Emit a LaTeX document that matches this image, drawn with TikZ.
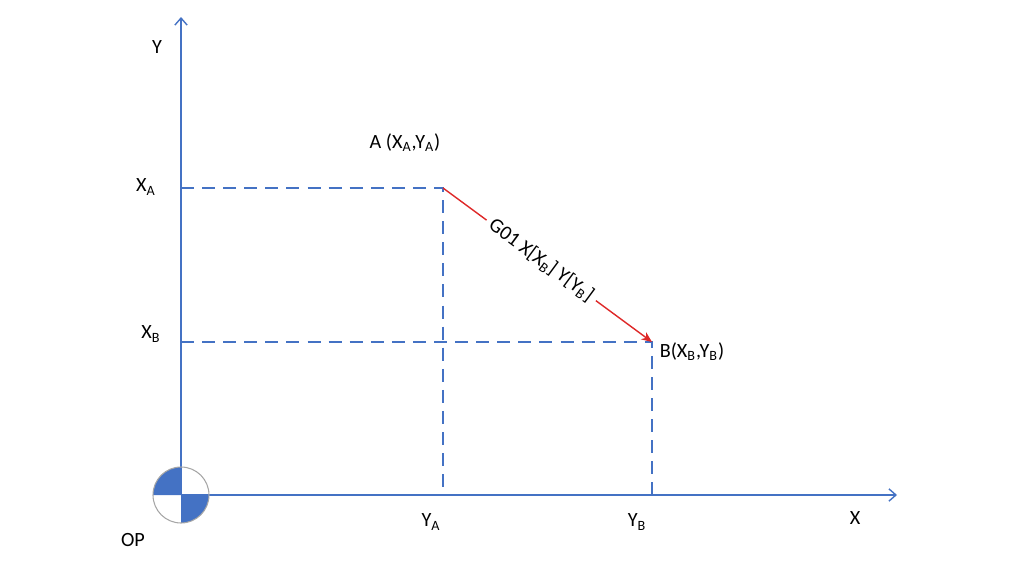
\documentclass[tikz,border=0pt]{standalone}
\usepackage{fontspec}
\setmainfont{Carlito}
\usetikzlibrary{arrows.meta}
\definecolor{axisblue}{RGB}{68,114,196}
\definecolor{pathred}{RGB}{222,40,40}
\tikzset{
  axis/.style={color=axisblue,line width=0.8pt,-{Straight Barb[length=4pt,width=7pt]}},
  guide/.style={color=axisblue,line width=1.1pt,dash pattern=on 7.4pt off 4.6pt},
  lbl/.style={font=\fontsize{11.5}{13}\selectfont,inner sep=1pt,text=black},
}
\begin{document}
\begin{tikzpicture}[x=0.02cm,y=-0.02cm]
		\useasboundingbox (0,0) rectangle (1024,575);
		% points
		\coordinate (O) at (181,495);
		\coordinate (A) at (443,188);
		\coordinate (B) at (652,342);
		\coordinate (xend) at (897,495);
		\coordinate (yend) at (181,17);
		\coordinate (xa) at (181,188);
		\coordinate (xb) at (181,342);
		\coordinate (ya) at (443,495);
		\coordinate (yb) at (652,495);
		
		% axes
		\draw[axis] (O) -- (xend);
		\draw[axis] (O) -- (yend);
		
		% guides
		\draw[guide] (xa) -- (A) -- (ya);
		\draw[guide] (xb) -- (B) -- (yb);
		
		% move
		\draw[color=pathred,line width=0.8pt,-{Stealth[length=6pt,width=5pt]}] (A) -- (B)
			node[lbl,pos=0.47,sloped,fill=white,inner sep=3pt] (move) {G01 X[X\textsubscript{B}] Y[Y\textsubscript{B}]};
		
		% origin mark
		\fill[axisblue] (O) -- +(-28,0) arc[start angle=180,end angle=270,radius=28] -- cycle;
		\fill[axisblue] (O) -- +(28,0) arc[start angle=0,end angle=90,radius=28] -- cycle;
		\draw[color=gray!70,line width=0.6pt] (O) circle[radius=28];
		
		% labels
		\node[lbl] (ylabel) at (157,47) {Y};
		\node[lbl] (xlabel) at (855,518) {X};
		\node[lbl] (xalabel) at (146,187) {X\textsubscript{A}};
		\node[lbl] (xblabel) at (151,334) {X\textsubscript{B}};
		\node[lbl] (yalabel) at (431,522) {Y\textsubscript{A}};
		\node[lbl] (yblabel) at (637,522) {Y\textsubscript{B}};
		\node[lbl] (alabel) at (405,143) {A (X\textsubscript{A},Y\textsubscript{A})};
		\node[lbl] (blabel) at (692,352) {B(X\textsubscript{B},Y\textsubscript{B})};
		\node[lbl] (oplabel) at (133,540) {OP};
		\end{tikzpicture}
\end{document}
